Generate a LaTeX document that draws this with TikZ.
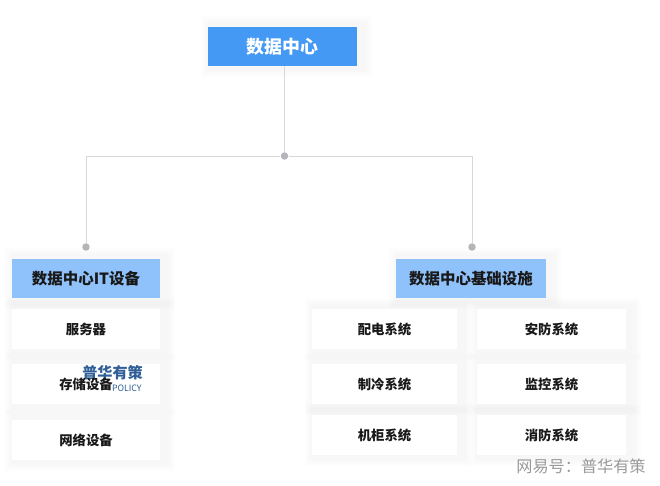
\documentclass[tikz,border=0pt]{standalone}
\usepackage{fontspec}
\setmainfont{Noto Sans CJK SC}
\setsansfont{Noto Sans CJK SC}
\usetikzlibrary{shadows}
\definecolor{rootblue}{HTML}{4499F5}
\definecolor{headblue}{HTML}{8FC1FB}
\definecolor{linegray}{HTML}{D8D8D8}
\definecolor{dotgray}{HTML}{B4B6B9}
\definecolor{markblue}{HTML}{2F5F96}
\begin{document}
\begin{tikzpicture}[x=0.02cm,y=-0.02cm,
	soft shadow/.style={
		general shadow={shadow xshift=0.08cm,shadow yshift=0cm,draw=black,opacity=0.007,line width=0.44cm},
		general shadow={shadow xshift=0.08cm,shadow yshift=0cm,draw=black,opacity=0.007,line width=0.36cm},
		general shadow={shadow xshift=0.08cm,shadow yshift=0cm,draw=black,opacity=0.007,line width=0.28cm},
		general shadow={shadow xshift=0.08cm,shadow yshift=0cm,draw=black,opacity=0.007,line width=0.2cm}},
	box node/.style={inner sep=0pt,minimum height=0.78cm,font=\bfseries,text=black!90},
	root node/.style={box node,soft shadow,fill=rootblue,text=white,minimum width=2.98cm,font=\fontsize{10.2}{12}\bfseries},
	head node/.style={box node,soft shadow,fill=headblue,font=\fontsize{8.8}{10}\bfseries},
	item node/.style={box node,soft shadow,fill=white,minimum height=0.8cm,font=\fontsize{7.6}{9}\bfseries},
	dot node/.style={circle,fill=dotgray,inner sep=0pt,minimum size=0.15cm},
	link/.style={linegray,line width=0.5pt}]
	
	\useasboundingbox (0,0) rectangle (660,486);
	
	\node[root node] (Root) at (282.5,46.5) {数据中心};
	\node[dot node] (Hub) at (284.5,156) {};
	\node[dot node] (DotIT) at (86,247) {};
	\node[dot node] (DotBase) at (472,247) {};
	\coordinate (RootFoot) at (284.5,66);
	
	\draw[link] (RootFoot) -- (Hub);
	\draw[link] (DotIT) |- (Hub);
	\draw[link] (DotBase) |- (Hub);
	
	\node[head node,minimum width=2.96cm] (HeadIT) at (86,278.5) {数据中心IT设备};
	\node[head node,minimum width=3cm] (HeadBase) at (471,278.5) {数据中心基础设施};
	
	% left column
	\node[item node,minimum width=2.96cm] (Server) at (86,329) {服务器};
	\node[item node,minimum width=2.96cm] (Storage) at (86,384) {};
	\node[item node,minimum width=2.96cm] (Network) at (86,440) {网络设备};
	
	\node[text=markblue,inner sep=0pt,font=\fontsize{8.6}{10}\bfseries] (MarkName) at (112.5,373) {普华有策};
	\node[text=markblue,inner sep=0pt,anchor=east,font=\fontsize{5}{6}\selectfont] (MarkSub) at (142,388) {POLICY};
	\node[inner sep=0pt,text=black!90,font=\fontsize{7.6}{9}\bfseries] (StorageText) at (Storage.center) {存储设备};
	
	% right columns
	\node[item node,minimum width=2.9cm] (Power) at (384.5,329) {配电系统};
	\node[item node,minimum width=2.9cm] (Cooling) at (384.5,384) {制冷系统};
	\node[item node,minimum width=2.9cm] (Rack) at (384.5,435) {机柜系统};
	\node[item node,minimum width=2.98cm] (Security) at (551.5,329) {安防系统};
	\node[item node,minimum width=2.98cm] (Monitor) at (551.5,384) {监控系统};
	\node[item node,minimum width=2.98cm] (Fire) at (551.5,435) {消防系统};
	
	\node[text=black!40,inner sep=0pt,font=\fontsize{9.2}{11}\selectfont] (Credit) at (581,466) {网易号：普华有策};
\end{tikzpicture}
\end{document}
